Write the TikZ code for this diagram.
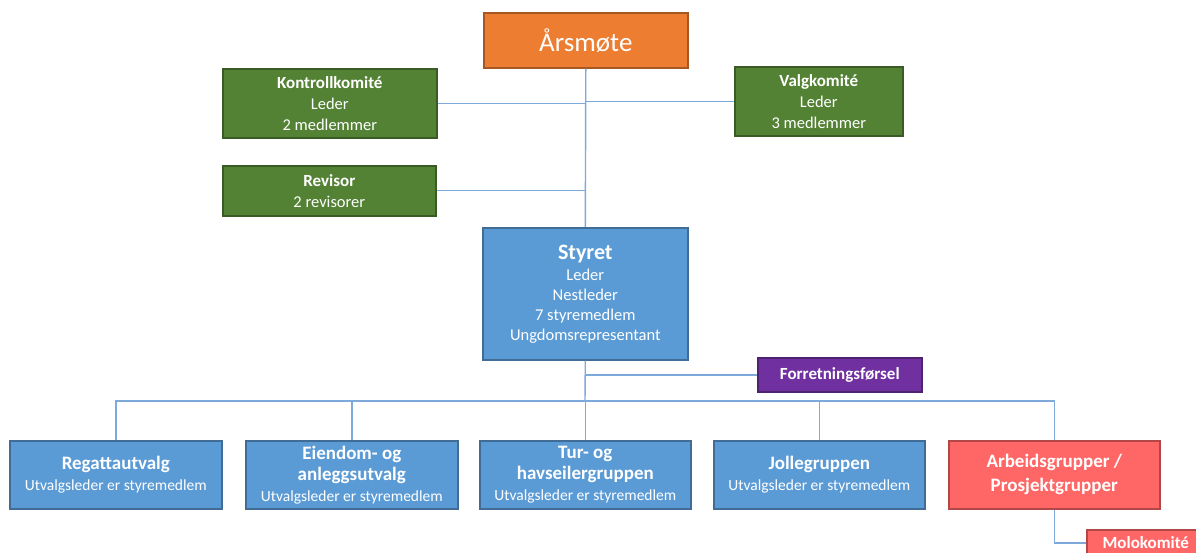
\documentclass[tikz,border=0pt]{standalone}
\usepackage{fontspec}
\setmainfont{Carlito}
\definecolor{cOrange}{HTML}{ED7D31}
\definecolor{cGreen}{HTML}{548235}
\definecolor{cBlue}{HTML}{5B9BD5}
\definecolor{cPurple}{HTML}{7030A0}
\definecolor{cRed}{HTML}{FF6666}
\definecolor{cLine}{HTML}{7EA9DB}
\tikzset{
  box/.style={draw=#1!70!black, fill=#1, line width=1.6pt, inner sep=0pt, align=center,
    text=white, anchor=north west, font=\fontsize{16.5}{21}\selectfont},
  conn/.style={draw=cLine, line width=1.4pt},
}
\newcommand{\ttlA}[1]{{\bfseries\fontsize{17}{21}\selectfont #1}}
\newcommand{\ttlB}[1]{{\bfseries\fontsize{19}{22}\selectfont #1}}
\begin{document}
\begin{tikzpicture}[x=1pt,y=-1pt]
\clip (0,0) rectangle (1196,553);
\fill[white] (0,0) rectangle (1196,553);

\node[box=cOrange, minimum width=204pt, minimum height=55pt, font=\fontsize{27}{30}\selectfont] (ars) at (483,12) {Årsmøte};
\node[box=cGreen, minimum width=214pt, minimum height=69pt] (kon) at (222,68)
  {\ttlA{Kontrollkomité}\\ Leder\\ 2 medlemmer};
\node[box=cGreen, minimum width=168pt, minimum height=69pt] (val) at (734,66)
  {\ttlA{Valgkomité}\\ Leder\\ 3 medlemmer};
\node[box=cGreen, minimum width=213pt, minimum height=50pt] (rev) at (222,165)
  {\ttlA{Revisor}\\ 2 revisorer};
\node[box=cBlue, minimum width=205pt, minimum height=132pt, font=\fontsize{16.5}{20}\selectfont] (sty) at (482,227)
  {{\bfseries\fontsize{22}{24}\selectfont Styret}\\[1pt] Leder\\ Nestleder\\ 7 styremedlem\\ Ungdomsrepresentant};
\node[box=cPurple, minimum width=164pt, minimum height=34pt, font=\bfseries\fontsize{17}{20}\selectfont] (for) at (757,357)
  {Forretningsførsel};

\node[box=cBlue, minimum width=212pt, minimum height=68pt, font=\fontsize{15.5}{21}\selectfont] (reg) at (9,440)
  {\ttlB{Regattautvalg}\\ Utvalgsleder er styremedlem};
\node[box=cBlue, minimum width=212pt, minimum height=68pt, font=\fontsize{15.5}{21}\selectfont] (eie) at (245,440)
  {\ttlB{Eiendom- og}\\ \ttlB{anleggsutvalg}\\ Utvalgsleder er styremedlem};
\node[box=cBlue, minimum width=211pt, minimum height=68pt, font=\fontsize{15.5}{21}\selectfont] (tur) at (479,440)
  {\ttlB{Tur- og}\\ \ttlB{havseilergruppen}\\ Utvalgsleder er styremedlem};
\node[box=cBlue, minimum width=211pt, minimum height=68pt, font=\fontsize{15.5}{21}\selectfont] (jol) at (713,440)
  {\ttlB{Jollegruppen}\\ Utvalgsleder er styremedlem};
\node[box=cRed, minimum width=211pt, minimum height=68pt, font=\bfseries\fontsize{19}{24}\selectfont] (arb) at (948,440)
  {Arbeidsgrupper /\\ Prosjektgrupper};
\node[box=cRed, minimum width=118pt, minimum height=26pt, font=\bfseries\fontsize{17}{20}\selectfont] (molo) at (1086,529)
  {Molokomité};

\coordinate (bus) at (585,401);

\draw[conn] (ars.south) -- (sty.north);
\draw[conn] (kon.east) -- (kon.east -| ars.south);
\draw[conn] (val.west) -- (val.west -| ars.south);
\draw[conn] (rev.east) -- (rev.east -| ars.south);
\draw[conn] (sty.south) -- (bus);
\draw[conn] (for.west) -- (for.west -| sty.south);
\draw[conn] (reg.north) |- (bus) -| (arb.north);
\draw[conn] (eie.north) -- (eie.north |- bus);
\draw[conn] (tur.north) -- (tur.north |- bus);
\draw[conn] (jol.north) -- (jol.north |- bus);
\draw[conn] (arb.south) |- (molo.west);
\end{tikzpicture}
\end{document}
